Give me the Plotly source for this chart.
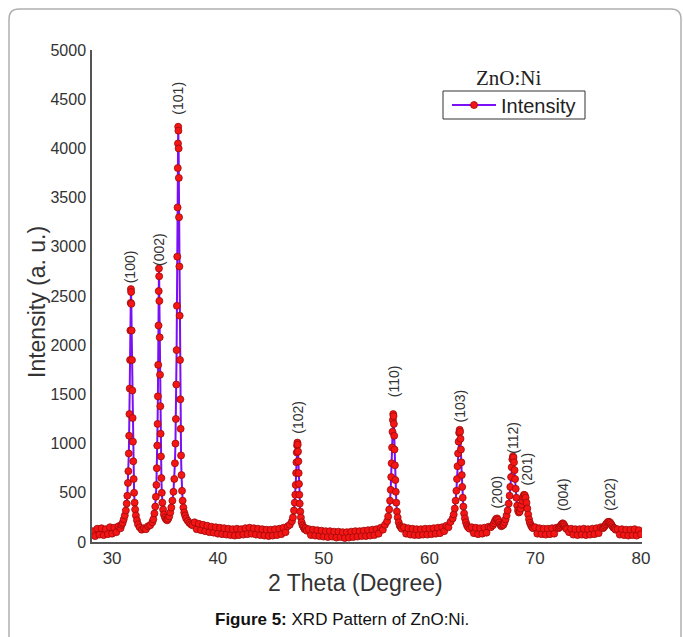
import plotly.graph_objects as go

# ---- XRD scan data (2-theta in degrees, intensity in a.u.) ----
two_theta = [
    28.2, 28.4, 28.6, 28.8, 29.0, 29.2, 29.4, 29.6, 29.8, 30.0, 30.2, 30.4, 30.6,
    30.8, 30.9, 31.0, 31.1, 31.2, 31.3, 31.38, 31.44, 31.5, 31.54,
    31.58, 31.61, 31.64, 31.67, 31.7, 31.73, 31.76, 31.78, 31.8, 31.82,
    31.85, 31.88, 31.91, 31.94, 31.97, 32.0, 32.04, 32.08, 32.13, 32.18,
    32.25, 32.35, 32.45, 32.6, 32.8, 33.0, 33.2, 33.4,
    33.6, 33.8, 33.9, 34.0, 34.08, 34.14, 34.19, 34.23, 34.27, 34.3,
    34.33, 34.36, 34.39, 34.41, 34.43, 34.45, 34.47, 34.5, 34.53, 34.56,
    34.59, 34.62, 34.66, 34.7, 34.75, 34.82, 34.9, 35.0, 35.1, 35.2, 35.3,
    35.4, 35.5, 35.6, 35.7, 35.8, 35.88, 35.94, 35.99, 36.03, 36.07,
    36.1, 36.13, 36.16, 36.19, 36.21, 36.23, 36.25, 36.27, 36.29, 36.31,
    36.33, 36.36, 36.39, 36.42, 36.45, 36.48, 36.52, 36.56, 36.61, 36.67,
    36.74, 36.82, 36.9, 37.0, 37.15, 37.3, 37.45, 37.6,
    37.8, 38.0, 38.2, 38.4, 38.6, 38.8, 39.0, 39.2, 39.4, 39.6,
    39.8, 40.0, 40.2, 40.4, 40.6, 40.8, 41.0, 41.2, 41.4, 41.6,
    41.8, 42.0, 42.2, 42.4, 42.6, 42.8, 43.0, 43.2, 43.4, 43.6,
    43.8, 44.0, 44.2, 44.4, 44.6, 44.8, 45.0, 45.2, 45.4, 45.6,
    45.8, 46.0, 46.2, 46.4, 46.6, 46.8,
    47.0, 47.1, 47.2, 47.27, 47.32, 47.36, 47.4, 47.43, 47.46, 47.49,
    47.52, 47.55, 47.58, 47.61, 47.64, 47.67, 47.7, 47.74, 47.79, 47.85,
    47.92, 48.0, 48.1, 48.2, 48.3, 48.4,
    48.6, 48.8, 49.0, 49.2, 49.4, 49.6, 49.8, 50.0, 50.2, 50.4,
    50.6, 50.8, 51.0, 51.2, 51.4, 51.6, 51.8, 52.0, 52.2, 52.4,
    52.6, 52.8, 53.0, 53.2, 53.4, 53.6, 53.8, 54.0, 54.2, 54.4,
    54.6, 54.8, 55.0, 55.2, 55.4, 55.6, 55.8,
    56.0, 56.1, 56.2, 56.28, 56.34, 56.39, 56.43, 56.47, 56.51, 56.55,
    56.58, 56.61, 56.64, 56.67, 56.7, 56.74, 56.78, 56.82, 56.87, 56.93,
    57.0, 57.1, 57.2, 57.3, 57.4,
    57.6, 57.8, 58.0, 58.2, 58.4, 58.6, 58.8, 59.0, 59.2, 59.4,
    59.6, 59.8, 60.0, 60.2, 60.4, 60.6, 60.8, 61.0, 61.2, 61.4,
    61.6, 61.8, 62.0, 62.2,
    62.3, 62.4, 62.48, 62.55, 62.61, 62.66, 62.71, 62.76, 62.81, 62.86,
    62.9, 62.94, 62.98, 63.02, 63.06, 63.1, 63.15, 63.21, 63.28, 63.36,
    63.45, 63.55, 63.65, 63.8,
    64.0, 64.2, 64.4, 64.6, 64.8, 65.0, 65.2, 65.4, 65.6, 65.8,
    66.0, 66.1, 66.2, 66.3, 66.4, 66.5, 66.6, 66.7, 66.8, 66.9,
    67.0, 67.1, 67.2, 67.3, 67.4, 67.5, 67.58, 67.65, 67.72, 67.78,
    67.84, 67.9, 67.95, 68.0, 68.05, 68.1, 68.16, 68.22, 68.3, 68.38,
    68.46, 68.54, 68.62, 68.7, 68.78, 68.86, 68.94, 69.02, 69.1, 69.18,
    69.26, 69.34, 69.42, 69.5, 69.6, 69.7, 69.8,
    70.0, 70.2, 70.4, 70.6, 70.8, 71.0, 71.2, 71.4, 71.6, 71.8, 72.0, 72.2,
    72.3, 72.4, 72.5, 72.6, 72.7, 72.8, 72.9, 73.0,
    73.2, 73.4, 73.6, 73.8, 74.0, 74.2, 74.4, 74.6, 74.8, 75.0,
    75.2, 75.4, 75.6, 75.8, 76.0, 76.2, 76.4,
    76.5, 76.6, 76.7, 76.8, 76.9, 77.0, 77.1, 77.2, 77.3, 77.4, 77.5, 77.6,
    77.8, 78.0, 78.2, 78.4, 78.6, 78.8, 79.0, 79.2, 79.4, 79.6, 79.8, 80.0,
]

intensity = [
    110, 60, 135, 75, 140, 70, 130, 80, 150, 85, 145, 100, 160,
    140, 175, 195, 230, 270, 320, 390, 470, 600, 720,
    900, 1080, 1300, 1560, 1850, 2150, 2430, 2570, 2540, 2420,
    2150, 1850, 1540, 1260, 1020, 820, 640, 500, 400, 330,
    270, 220, 180, 150, 125, 140, 130, 160,
    170, 200, 230, 290, 360, 460, 580, 750, 980, 1200,
    1480, 1800, 2200, 2550, 2780, 2700, 2450, 2080, 1700, 1380,
    1100, 870, 650, 500, 400, 330, 280, 250, 230, 220, 235,
    260, 300, 350, 420, 510, 640, 800, 1000, 1250, 1600,
    1950, 2400, 2900, 3400, 3800, 4050, 4220, 4180, 4000, 3700,
    3300, 2800, 2300, 1850, 1450, 1150, 880, 680, 520, 420,
    350, 300, 270, 240, 215, 195, 180, 170,
    200, 130, 185, 120, 175, 110, 165, 100, 155, 95,
    150, 85, 145, 80, 140, 75, 135, 70, 130, 65,
    135, 70, 130, 75, 140, 80, 145, 85, 140, 75,
    135, 70, 130, 65, 125, 60, 125, 65, 130, 70,
    135, 80, 145, 100, 160, 175,
    210, 250, 320, 400, 480, 580, 700, 810, 910, 980,
    1010, 990, 920, 820, 700, 590, 480, 390, 310, 250,
    200, 170, 150, 130, 140, 115,
    130, 70, 125, 65, 120, 60, 115, 55, 110, 50,
    110, 55, 105, 45, 105, 50, 100, 40, 100, 45,
    105, 50, 110, 55, 110, 60, 115, 60, 120, 65,
    125, 70, 130, 85, 145, 125, 175,
    210, 260, 330, 420, 530, 660, 800, 960, 1120, 1240,
    1300, 1280, 1200, 1080, 940, 780, 630, 510, 400, 310,
    250, 200, 165, 150, 135,
    150, 85, 140, 75, 135, 70, 130, 70, 130, 75,
    135, 75, 135, 80, 140, 85, 145, 90, 150, 110,
    165, 150, 205, 240,
    280, 340, 420, 520, 640, 770, 900, 1020, 1110, 1140,
    1120, 1050, 940, 810, 680, 560, 450, 360, 290, 240,
    200, 170, 150, 135,
    150, 90, 145, 80, 140, 85, 145, 95, 155, 150,
    170, 190, 215, 235, 240, 225, 200, 175, 160, 170,
    175, 200, 230, 270, 320, 390, 470, 560, 660, 760,
    840, 870, 860, 810, 730, 640, 540, 450, 370, 320,
    300, 310, 340, 380, 420, 460, 480, 475, 450, 400,
    340, 280, 230, 195, 170, 150, 140,
    150, 85, 140, 80, 135, 75, 135, 80, 140, 85, 145, 140,
    150, 165, 180, 190, 180, 160, 140, 130,
    100, 135, 75, 130, 70, 130, 75, 135, 70, 130,
    75, 135, 80, 140, 90, 150, 140,
    150, 165, 180, 195, 205, 205, 195, 180, 160, 145, 140, 125,
    130, 75, 130, 70, 125, 65, 125, 70, 130, 65, 120, 80,
]

assert len(two_theta) == len(intensity)

# ---- Miller-index labels ----
peak_labels = ["(100)", "(002)", "(101)", "(102)", "(110)", "(103)",
               "(200)", "(112)", "(201)", "(004)", "(202)"]
peak_label_x = [31.77, 34.45, 36.27, 47.55, 56.62, 62.92,
                66.4, 67.95, 69.25, 72.62, 77.05]
peak_label_y = [2800, 2970, 4510, 1270, 1630, 1380,
                505, 1065, 740, 487, 487]

x_ticks = [30, 40, 50, 60, 70, 80]
y_ticks = [0, 500, 1000, 1500, 2000, 2500, 3000, 3500, 4000, 4500, 5000]

SANS = "Liberation Sans, Arial, sans-serif"

fig = go.Figure()
fig.add_trace(go.Scatter(
    x=two_theta, y=intensity, mode="lines+markers", name="Intensity",
    line=dict(color="#7a10f5", width=2),
    marker=dict(color="#f51515", size=7, line=dict(color="#9a0a0a", width=0.8)),
))

# plot area in pixels: x 92..642, y 50..542
L, R, T, B = 92, 642, 50, 542
W, H = R - L, B - T


def px(xp):
    return (xp - L) / W


def py(yp):
    return (B - yp) / H


annotations = []
for lab, lx, ly in zip(peak_labels, peak_label_x, peak_label_y):
    annotations.append(dict(
        x=lx, y=ly, xref="x", yref="y", text=lab, showarrow=False,
        textangle=-90, font=dict(family=SANS, size=14, color="#333333"),
        xanchor="center", yanchor="middle",
    ))

annotations += [
    dict(x=px(508), y=py(78), xref="paper", yref="paper", text="ZnO:Ni",
         showarrow=False, font=dict(family="Liberation Serif, Times New Roman, serif",
                                    size=21, color="#222222"),
         xanchor="center", yanchor="middle"),
    dict(x=px(355), y=py(583), xref="paper", yref="paper", text="2 Theta (Degree)",
         showarrow=False, font=dict(family=SANS, size=23, color="#333333"),
         xanchor="center", yanchor="middle"),
    dict(x=px(37), y=py(302), xref="paper", yref="paper", text="Intensity (a. u.)",
         showarrow=False, textangle=-90,
         font=dict(family=SANS, size=23, color="#333333"),
         xanchor="center", yanchor="middle"),
    dict(x=px(342), y=py(619), xref="paper", yref="paper",
         text="<b>Figure 5:</b> XRD Pattern of ZnO:Ni.",
         showarrow=False, font=dict(family=SANS, size=17, color="#111111"),
         xanchor="center", yanchor="middle"),
]

# rounded outer frame
frame_path = (
    f"M {px(9)},{py(640)} L {px(9)},{py(19)} Q {px(9)},{py(9)} {px(19)},{py(9)} "
    f"L {px(671)},{py(9)} Q {px(681)},{py(9)} {px(681)},{py(19)} L {px(681)},{py(640)}"
)

fig.update_layout(
    width=683, height=637,
    margin=dict(l=L, r=683 - R, t=T, b=637 - B),
    paper_bgcolor="white", plot_bgcolor="white",
    showlegend=True,
    legend=dict(x=px(447), y=py(105), xanchor="left", yanchor="middle",
                bgcolor="rgba(0,0,0,0)", borderwidth=0, itemwidth=44,
                font=dict(family=SANS, size=20, color="#222222"),
                tracegroupgap=0),
    annotations=annotations,
    shapes=[
        dict(type="path", path=frame_path, xref="paper", yref="paper",
             line=dict(color="#b0b0b0", width=1.5), layer="below"),
        dict(type="rect", xref="paper", yref="paper",
             x0=px(443), x1=px(585), y0=py(119), y1=py(91),
             line=dict(color="#333333", width=1), fillcolor="white", layer="below"),
    ],
)

fig.update_xaxes(range=[28.1, 80.1], tickvals=x_ticks, ticks="", showgrid=False,
                 zeroline=False, showline=True, linecolor="#555555", linewidth=1.5,
                 tickfont=dict(family=SANS, size=17, color="#333333"),
                 mirror=False)
fig.update_yaxes(range=[0, 5000], tickvals=y_ticks, ticks="", showgrid=False,
                 zeroline=False, showline=True, linecolor="#555555", linewidth=1.5,
                 tickfont=dict(family=SANS, size=16, color="#333333"),
                 ticklabelstandoff=1)

fig.write_html("out.html")
